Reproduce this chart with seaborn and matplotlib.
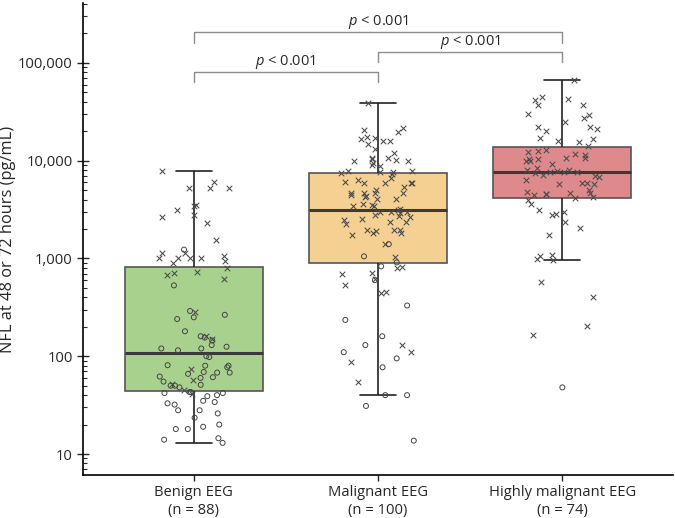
import numpy as np
import pandas as pd
import seaborn as sns
import matplotlib.pyplot as plt
from matplotlib.ticker import FuncFormatter, LogLocator, NullFormatter

# categories and labels
groups = ["Benign EEG", "Malignant EEG", "Highly malignant EEG"]
tick_labels = ["Benign EEG\n(n = 88)", "Malignant EEG\n(n = 100)", "Highly malignant EEG\n(n = 74)"]
box_colors = ["#a9d18e", "#f4d092", "#de8a8c"]

# NFL values (pg/mL); x = cross markers, o = open circles
benign_x = [7900, 6100, 5300, 5200, 5300, 3500, 3400, 2650, 3100, 2800, 2300, 1560,
            1130, 1140, 1000, 1050, 900, 1000, 950, 1000, 1000, 790, 710, 720, 610,
            680, 280, 150, 160, 74, 52, 57, 45, 41]
benign_o = [1230, 530, 290, 240, 250, 265, 180, 155, 160, 145, 120, 130, 125, 120,
            115, 100, 98, 80, 81, 80, 77, 66, 60, 62, 68, 68, 69, 61, 50, 48, 50, 51,
            55, 42, 43, 43, 42, 39, 40, 35, 32, 34, 33, 26, 28, 28, 23.5, 19, 18, 20,
            18, 13, 14.5, 14]
mal_x = [39000, 21500, 19500, 20500, 16000, 16700, 17200, 17500, 16000, 14800,
         13200, 12000, 10300, 9850, 10000, 10100, 10600, 9500, 10700, 8800,
         9000, 7500, 7800, 7700, 7700, 7300, 7800, 6700, 6000, 5900,
         5900, 6400, 5900, 5900, 5400, 5000, 4700, 4700, 4700, 4700,
         4050, 4050, 4500, 4350, 4200, 3600, 3400, 3550, 3400, 3100,
         3200, 3000, 2800, 2700, 2950, 2950, 2900, 2650, 2500, 2350,
         2550, 1900, 1950, 1950, 1750, 2350, 2250, 1950, 1800, 1800,
         1400, 1030, 820, 790, 700, 710, 610, 530, 440, 450,
         130, 110, 88, 54]
mal_o = [1400, 1050, 910, 830, 600, 330, 235, 160, 130, 110, 95, 77, 40, 40, 31, 13.7]
hi_x = [66800, 42000, 45000, 43000, 37000, 37000, 29000, 30000, 25000, 27000,
        21000, 20000, 22000, 22000, 16500, 17000, 16000, 15500, 14000, 12400,
        11800, 10600, 10600, 10400, 12200, 12800, 11500, 10500, 10000, 9200,
        10000, 8400, 8100, 7700, 7600, 7900, 7400, 7700, 8000, 6900,
        6800, 7100, 6300, 5900, 5700, 5800, 5900, 4950, 4650, 4700,
        4750, 4550, 4550, 4500, 4200, 4000, 4100, 3600, 2800, 2850,
        3150, 2950, 2350, 1750, 2050, 990, 1060, 1090, 960, 580,
        400, 205, 165]
hi_o = [48]

rows = []
for g, xs, os_ in zip(groups, [benign_x, mal_x, hi_x], [benign_o, mal_o, hi_o]):
    rows += [(g, v, "x") for v in xs]
    rows += [(g, v, "o") for v in os_]
df = pd.DataFrame(rows, columns=["group", "nfl", "marker"])

sns.set_style("ticks")
plt.rcParams["font.family"] = ["Open Sans", "DejaVu Sans"]
plt.rcParams["mathtext.fontset"] = "custom"
plt.rcParams["mathtext.rm"] = "Open Sans"
plt.rcParams["mathtext.it"] = "Open Sans:italic"

fig = plt.figure(figsize=(6.75, 5.18), dpi=100)
ax = fig.add_axes([0.123, 0.083, 0.874, 0.911])
ax.set_yscale("log")

sns.boxplot(data=df, x="group", y="nfl", order=groups, hue="group", hue_order=groups,
            palette=box_colors, saturation=1, width=0.75, whis=1.5, showfliers=False,
            linecolor="#555555", linewidth=1.2, legend=False, capwidths=0.195,
            medianprops=dict(color="#3a3a3a", linewidth=2.2),
            whiskerprops=dict(color="#222222", linewidth=1.2),
            capprops=dict(color="#222222", linewidth=1.2), ax=ax)

np.random.seed(7)
sns.stripplot(data=df[df.marker == "x"], x="group", y="nfl", order=groups, marker="x",
              color="#4a4a4a", size=4.0, linewidth=0.75, jitter=0.2, zorder=3, ax=ax)
n0 = len(ax.collections)
sns.stripplot(data=df[df.marker == "o"], x="group", y="nfl", order=groups, marker="o",
              color="#444444", size=3.6, linewidth=0.7, jitter=0.2, zorder=3, ax=ax)
for c in ax.collections[n0:]:
    c.set_facecolor("none")
    c.set_edgecolor("#444444")
    c.set_linewidth(0.7)

# significance brackets
brackets = [(0, 1, 80500, 63700, 102000), (1, 2, 128800, 101900, 164000), (0, 2, 206400, 159700, 263000)]
for a, b, top, low, ty in brackets:
    ax.plot([a, a, b, b], [low, top, top, low], color="#8c8c8c", lw=1.0, clip_on=False)
    ax.text((a + b) / 2, ty, r"$\it{p}$ < 0.001", ha="center", va="center", fontsize=10.5)

ax.set_xlim(-0.6, 2.6)
ax.set_ylim(6.1, 408000)
ax.yaxis.set_major_locator(LogLocator(base=10, numticks=10))
ax.yaxis.set_major_formatter(FuncFormatter(lambda v, p: f"{v:,.0f}"))
ax.yaxis.set_minor_locator(LogLocator(base=10, subs=np.arange(2, 10), numticks=20))
ax.yaxis.set_minor_formatter(NullFormatter())
ax.tick_params(axis="y", which="major", direction="inout", length=8, width=1, labelsize=10.7)
ax.tick_params(axis="y", which="minor", direction="in", length=3, width=0.8)
ax.tick_params(axis="x", direction="out", length=4, width=1, labelsize=10.6)
ax.set_xticks(range(3))
ax.set_xticklabels(tick_labels)
ax.set_xlabel("")
ax.set_ylabel("NFL at 48 or 72 hours (pg/mL)", fontsize=11.8)
ax.yaxis.set_label_coords(-0.113, 0.5)
sns.despine(ax=ax)
for s in ["left", "bottom"]:
    ax.spines[s].set_linewidth(1.2)
    ax.spines[s].set_color("black")

fig.savefig("out.png", dpi=100)
